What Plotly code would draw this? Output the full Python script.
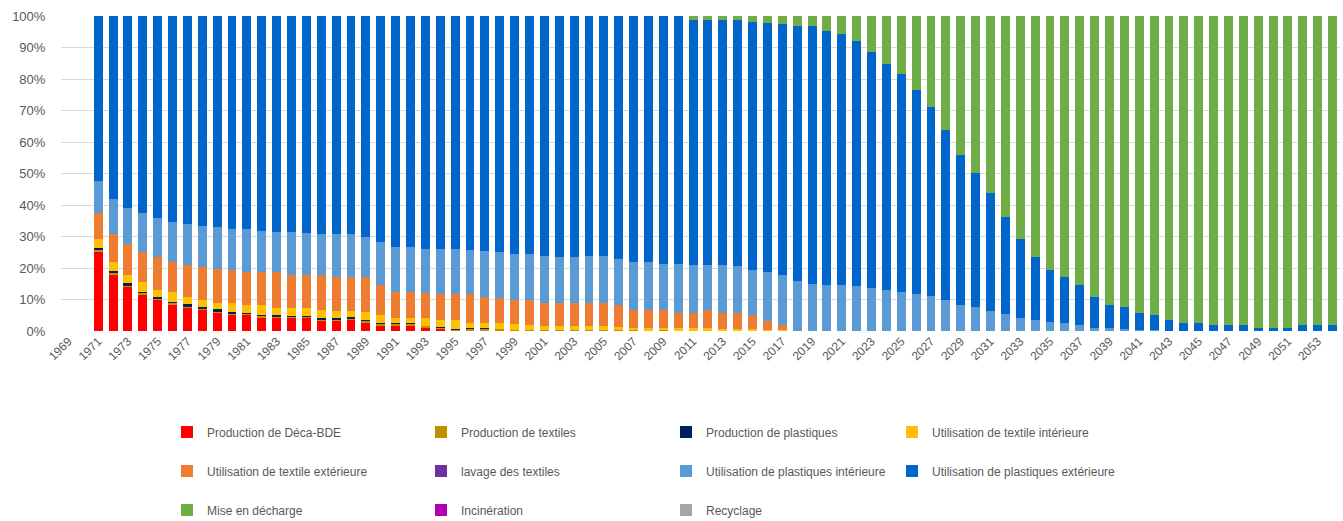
import plotly.graph_objects as go

years = list(range(1971, 2055))
tick_years = list(range(1969, 2054, 2))

deca_bde = [25.3, 18.0, 14.0, 11.5, 9.9, 8.4, 7.6, 6.7, 6.0, 5.2, 5.1, 4.4, 4.2, 4.2,
            4.2, 3.4, 3.3, 3.5, 2.7, 1.9, 1.8, 1.8, 1.0, 0.7] + [0] * 60
prod_textiles = [0.4, 0.4, 0.4, 0.6, 0.3, 0.5, 0.3, 0.3, 0.3, 0.5, 0.4, 0.5, 0.3, 0.4,
                 0.3, 0.4, 0.2, 0.2, 0.5, 0.5, 0.6, 0.6, 0.6, 0.4, 0.6, 0.8, 0.8, 0.5,
                 0.3, 0.3, 0.3, 0.3, 0.3, 0.3, 0.3, 0.2, 0.2, 0.2, 0.2, 0.2, 0.2, 0.2,
                 0.2, 0.2, 0.1, 0.1, 0.1] + [0] * 37
prod_plastiques = [0.8, 0.8, 0.8, 0.3, 0.6, 0.2, 0.6, 0.6, 0.6, 0.2, 0.2, 0.2, 0.6, 0.2,
                   0.2, 0.2, 0.7, 0.7, 0.2, 0.2, 0.2, 0.2, 0.1, 0.1, 0.1, 0.1, 0.1] + [0] * 57
textile_int = [2.7, 2.6, 2.6, 3.0, 2.3, 3.2, 2.2, 2.1, 2.0, 3.0, 2.6, 3.1, 2.2, 2.5,
               2.6, 2.7, 2.1, 2.0, 2.5, 2.5, 1.5, 1.6, 2.5, 2.2, 2.7, 1.7, 1.7, 2.2,
               1.9, 1.5, 1.3, 1.3, 1.3, 1.3, 1.3, 1.2, 0.8, 0.6, 0.7, 0.6, 0.6, 0.6,
               0.5, 0.5, 0.4, 0.3, 0.1] + [0] * 37
textile_ext = [8.2, 9.0, 9.7, 9.8, 10.3, 9.5, 10.3, 10.5, 10.7, 10.5, 10.3, 10.4, 11.3, 10.5,
               10.5, 11.1, 11.0, 10.9, 11.3, 9.5, 8.2, 8.1, 8.0, 8.2, 8.2, 9.0, 8.2, 7.9,
               7.6, 8.0, 7.4, 7.4, 7.4, 7.4, 7.4, 6.9, 5.7, 5.9, 5.7, 5.0, 5.0, 5.8,
               5.1, 5.0, 4.5, 2.9, 1.6] + [0] * 37
lavage = [0] * 84
plast_int = [10.1, 11.2, 11.4, 12.4, 12.6, 12.9, 12.9, 13.1, 13.4, 13.0, 13.8, 13.2, 12.9, 13.7,
             13.4, 13.0, 13.5, 13.5, 12.7, 13.8, 14.5, 14.4, 13.8, 14.4, 14.4, 14.1, 14.7, 14.4,
             14.5, 14.5, 14.7, 14.6, 14.6, 14.9, 14.9, 14.7, 15.2, 15.1, 14.8, 15.4, 15.2, 14.4,
             15.2, 14.8, 14.4, 15.3, 16.0, 16.0, 15.0, 14.7, 14.7, 14.4, 13.8, 13.1, 12.4, 11.7,
             11.1, 9.8, 8.3, 7.5, 6.5, 5.3, 4.2, 3.4, 2.8, 2.6, 1.8, 1.0, 0.8, 0.7,
             0.3, 0.2, 0.1] + [0] * 11
plast_ext = [52.5, 58.0, 61.1, 62.4, 64.0, 65.3, 66.1, 66.7, 67.0, 67.6, 67.6, 68.2, 68.5, 68.5,
             68.8, 69.2, 69.2, 69.2, 70.1, 71.6, 73.2, 73.3, 74.0, 74.0, 74.0, 74.3, 74.5, 75.0,
             75.7, 75.7, 76.3, 76.4, 76.4, 76.1, 76.1, 77.0, 78.1, 78.2, 78.6, 78.8, 77.8, 77.6,
             77.6, 78.1, 78.8, 79.2, 79.8, 80.8, 81.8, 80.6, 79.7, 77.7, 74.9, 71.6, 69.2, 64.9,
             60.0, 53.9, 47.5, 42.7, 37.2, 31.0, 25.0, 20.1, 16.7, 14.6, 12.9, 9.8, 7.5, 6.8,
             5.5, 4.9, 3.3, 2.6, 2.6, 1.8, 1.8, 1.8, 1.1, 1.1, 1.1, 1.8, 1.8, 1.8]
decharge = [0] * 40 + [1.2, 1.4, 1.4, 1.4, 1.8, 2.2, 2.4, 3.2, 3.2, 4.7, 5.6, 7.9, 11.3, 15.3,
                       18.4, 23.4, 28.9, 36.3, 44.2, 49.8, 56.3, 63.7, 70.8, 76.5, 80.5, 82.8, 85.3, 89.2,
                       91.7, 92.5, 94.2, 94.9, 96.6, 97.4, 97.4, 98.2, 98.2, 98.2, 98.9, 98.9, 98.9, 98.2,
                       98.2, 98.2]
incineration = [0] * 84
recyclage = [0] * 84

series = [
    ("Production de Déca-BDE", deca_bde, "#FF0000"),
    ("Production de textiles", prod_textiles, "#BF9000"),
    ("Production de plastiques", prod_plastiques, "#002060"),
    ("Utilisation de textile intérieure", textile_int, "#FFC000"),
    ("Utilisation de textile extérieure", textile_ext, "#ED7D31"),
    ("lavage des textiles", lavage, "#7030A0"),
    ("Utilisation de plastiques intérieure", plast_int, "#5B9BD5"),
    ("Utilisation de plastiques extérieure", plast_ext, "#0066CC"),
    ("Mise en décharge", decharge, "#70AD47"),
    ("Incinération", incineration, "#B000B0"),
    ("Recyclage", recyclage, "#A5A5A5"),
]

W, H = 1343, 521
col_x = [187, 441, 686, 912]
row_y = [432, 471, 510]

fig = go.Figure()
layout_legends = {}
for i, (name, vals, color) in enumerate(series):
    lid = "legend" if i == 0 else f"legend{i + 1}"
    fig.add_trace(go.Bar(x=years, y=vals, name=name, marker_color=color,
                         marker_line_width=0, legend=lid))
    cx = col_x[i % 4]
    cy = row_y[i // 4]
    layout_legends[lid] = dict(
        xref="container", yref="container",
        x=(cx - 20) / W, y=1 - cy / H,
        xanchor="left", yanchor="middle",
        bgcolor="rgba(0,0,0,0)",
        font=dict(family="Liberation Sans", size=12, color="#595959"),
    )

fig.update_layout(
    width=W, height=H,
    barmode="stack", bargap=0.4,
    plot_bgcolor="white", paper_bgcolor="white",
    margin=dict(l=61, r=3, t=16, b=190, autoexpand=False),
    showlegend=True,
    **layout_legends,
)
fig.update_xaxes(range=[1968.5, 2054.5], tickmode="array", tickvals=tick_years,
                 ticktext=[str(y) for y in tick_years], tickangle=-45,
                 showgrid=False, zeroline=False, showline=False,
                 tickfont=dict(family="Liberation Sans", size=12, color="#595959"))
fig.update_yaxes(range=[0, 100], tickmode="array", tickvals=list(range(0, 101, 10)),
                 ticktext=[f"{v}%" for v in range(0, 101, 10)],
                 showgrid=True, gridcolor="#D9D9D9", gridwidth=1,
                 zeroline=False, showline=False, ticks="outside", ticklen=12,
                 tickcolor="rgba(0,0,0,0)",
                 tickfont=dict(family="Liberation Sans", size=13, color="#595959"))

fig.write_html("out.html")
